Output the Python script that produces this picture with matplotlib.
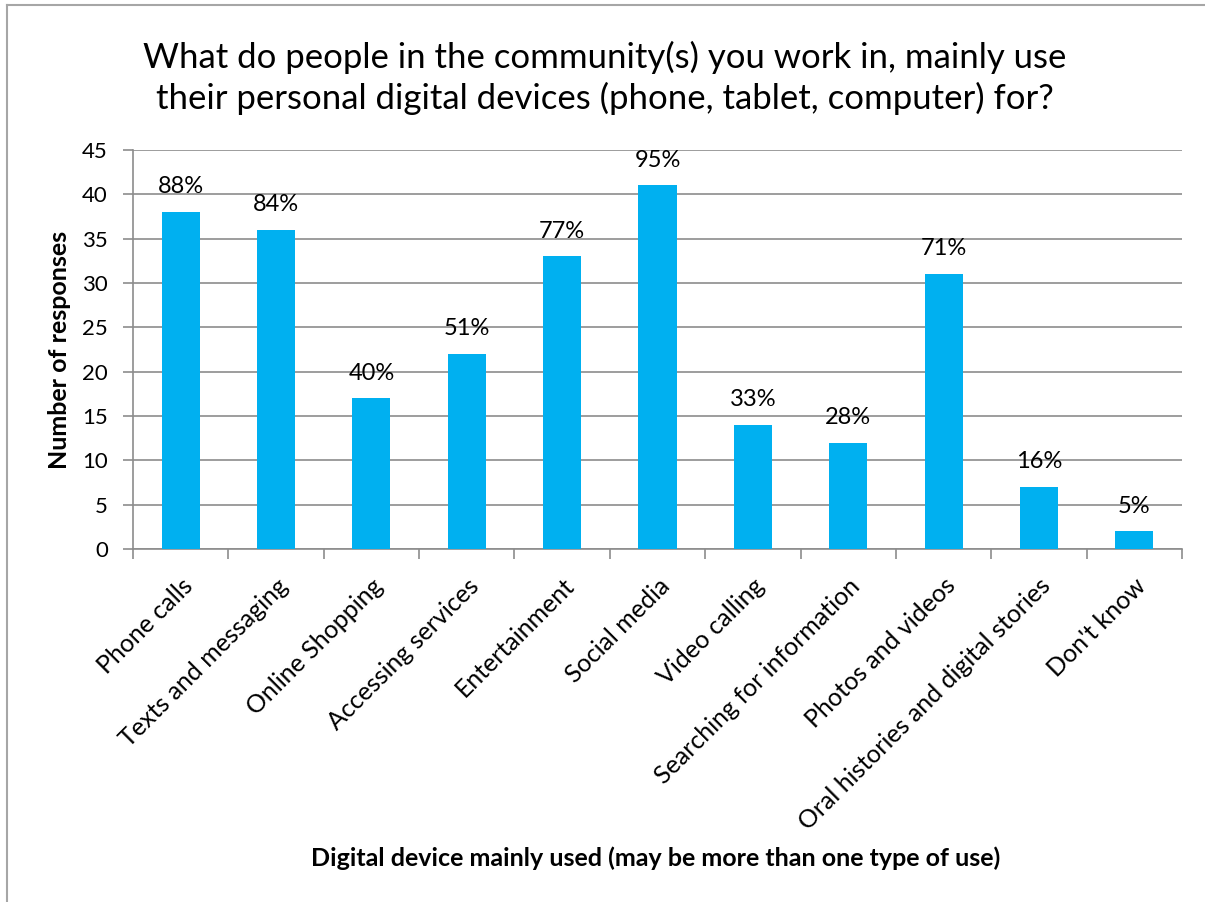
import matplotlib.pyplot as plt
from matplotlib.lines import Line2D

plt.rcParams['font.family'] = ['Lato', 'DejaVu Sans']

categories = ["Phone calls", "Texts and messaging", "Online Shopping", "Accessing services",
              "Entertainment", "Social media", "Video calling", "Searching for information",
              "Photos and videos", "Oral histories and digital stories", "Don't know"]
responses = [38, 36, 17, 22, 33, 41, 14, 12, 31, 7, 2]
pct_labels = ["88%", "84%", "40%", "51%", "77%", "95%", "33%", "28%", "71%", "16%", "5%"]

BAR_COLOR = "#00B0F0"
GRID_COLOR = "#8C8C8C"

fig = plt.figure(figsize=(12.05, 9.02), dpi=100)
ax = fig.add_axes([133 / 1205, 1 - 549 / 902, (1182 - 133) / 1205, (549 - 150) / 902])

x = list(range(len(categories)))
ax.bar(x, responses, width=0.4, color=BAR_COLOR, zorder=3)

for xi, v, lab in zip(x, responses, pct_labels):
    ax.annotate(lab, (xi, v), xytext=(0, 13.5), textcoords="offset points",
                ha="center", va="baseline", fontsize=17, color="black")

ax.set_xlim(-0.5, len(categories) - 0.5)
ax.set_ylim(0, 45)
ax.set_yticks(range(0, 46, 5))
ax.yaxis.grid(True, color=GRID_COLOR, linewidth=1.2, zorder=0)
ax.set_axisbelow(True)

# category boundaries get the tick marks, centres get the labels
ax.set_xticks([i - 0.5 for i in range(len(categories) + 1)])
ax.set_xticklabels([])
ax.set_xticks(x, minor=True)
ax.set_xticklabels(categories, minor=True, rotation=45, ha="right",
                   rotation_mode="anchor", fontsize=18)
ax.tick_params(axis="x", which="minor", length=0, pad=18)
ax.tick_params(axis="x", which="major", length=7, width=1.2, color=GRID_COLOR)
ax.tick_params(axis="y", length=7, width=1.2, color=GRID_COLOR, labelsize=16, pad=11)

for side in ("top", "right"):
    ax.spines[side].set_visible(False)
for side in ("left", "bottom"):
    ax.spines[side].set_color(GRID_COLOR)
    ax.spines[side].set_linewidth(1.2)

ax.set_ylabel("Number of responses", fontsize=18, fontweight="bold")
ax.yaxis.set_label_coords((71 - 133) / 1049, 0.5)
fig.text(656 / 1205, 1 - 858 / 902, "Digital device mainly used (may be more than one type of use)",
         ha="center", va="center", fontsize=18, fontweight="bold")

fig.text(0.502, 1 - 78 / 902,
         "What do people in the community(s) you work in, mainly use\n"
         "their personal digital devices (phone, tablet, computer) for?",
         ha="center", va="center", fontsize=25, linespacing=1.3)

# chart area outline (only top and left edges fall inside the image)
fig.add_artist(Line2D([7 / 1205, 7 / 1205], [0, 1 - 5 / 902], transform=fig.transFigure,
                      color="#A6A6A6", linewidth=1.5))
fig.add_artist(Line2D([7 / 1205, 1], [1 - 5 / 902, 1 - 5 / 902], transform=fig.transFigure,
                      color="#A6A6A6", linewidth=1.5))

fig.savefig("out.png", dpi=100, facecolor="white")
